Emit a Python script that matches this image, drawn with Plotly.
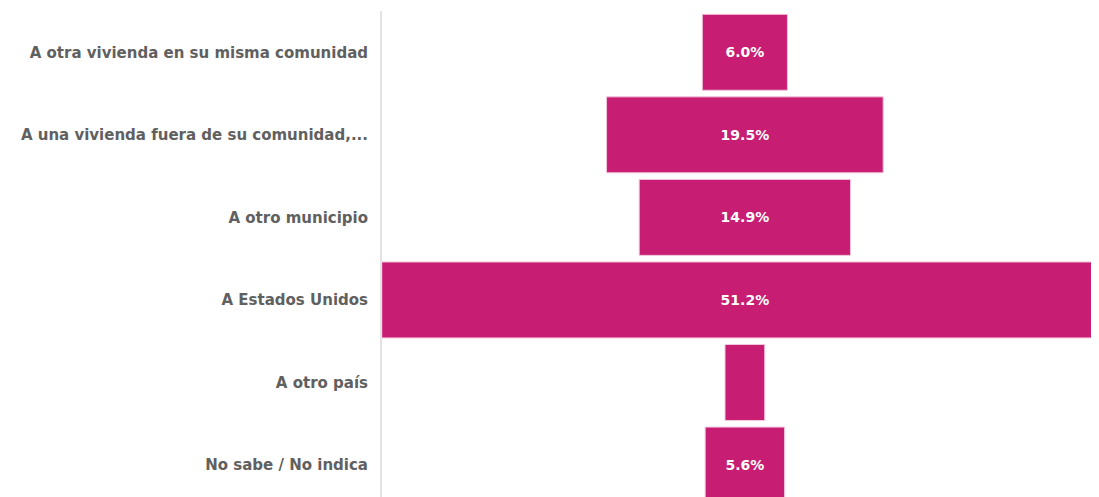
import plotly.graph_objects as go

categories = [
    "A otra vivienda en su misma comunidad",
    "A una vivienda fuera de su comunidad,...",
    "A otro municipio",
    "A Estados Unidos",
    "A otro país",
    "No sabe / No indica",
]
values = [6.0, 19.5, 14.9, 51.2, 2.8, 5.6]
label_shown = [True, True, True, True, False, True]

bar_color = "#C71D72"
label_color = "#606060"
font_family = "DejaVu Sans, sans-serif"

bar_text = [f"{v:.1f}%" if s else "" for v, s in zip(values, label_shown)]

fig = go.Figure(
    go.Funnel(
        y=categories,
        x=values,
        text=bar_text,
        textinfo="text",
        textposition="inside",
        insidetextanchor="middle",
        textfont=dict(color="white", size=14, family=font_family, weight="bold"),
        marker=dict(color=bar_color, line=dict(color="#F3C6DC", width=1)),
        connector=dict(visible=False),
        hoverinfo="skip",
    )
)

n = len(categories)
fig.update_layout(
    width=1083,
    height=489,
    margin=dict(l=374, r=0, t=3, b=0),
    paper_bgcolor="white",
    plot_bgcolor="white",
    showlegend=False,
    funnelgap=0.08,
    font=dict(family=font_family, color=label_color),
)
fig.update_xaxes(visible=False, range=[-25.58, 24.4])
fig.update_yaxes(
    range=[n - 0.5 - 0.113, -0.5],
    showline=True,
    linecolor="#E3E3E3",
    linewidth=2,
    ticks="",
    ticklabelstandoff=9,
    tickfont=dict(size=15, color=label_color, family=font_family, weight="bold"),
    showgrid=False,
)

fig.write_html("out.html")
